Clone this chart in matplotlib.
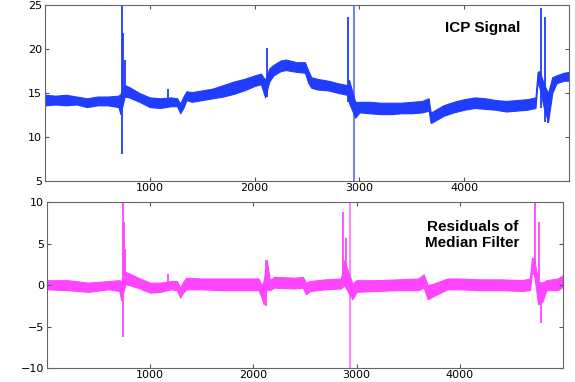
import matplotlib
matplotlib.use('Agg')
import matplotlib.pyplot as plt

# ICP signal: noise band (low / high) read at sample positions
icp_x = [0, 100, 200, 300, 400, 500, 600, 700, 720, 760, 800, 900, 1000, 1100,
         1200, 1260, 1290, 1320, 1350, 1400, 1500, 1600, 1700, 1800, 1900, 2000,
         2060, 2100, 2140, 2180, 2250, 2300, 2400, 2480, 2510, 2540, 2600, 2700,
         2800, 2880, 2900, 2960, 3000, 3100, 3200, 3300, 3400, 3500, 3600, 3660,
         3680, 3700, 3800, 3900, 4000, 4100, 4200, 4300, 4400, 4500, 4600, 4680,
         4700, 4720, 4760, 4800, 4840, 4880, 4950, 5000]
icp_lo = [13.6, 13.7, 13.6, 13.7, 13.4, 13.6, 13.6, 13.4, 12.6, 14.6, 14.5, 14.0,
          13.4, 13.3, 13.5, 13.5, 12.7, 13.3, 14.2, 14.0, 14.2, 14.4, 14.6, 14.9,
          15.3, 15.8, 16.0, 14.5, 16.3, 17.0, 17.5, 17.6, 17.4, 17.3, 16.2, 15.6,
          15.4, 15.3, 15.0, 14.8, 13.9, 12.2, 12.8, 12.7, 12.6, 12.6, 12.7, 12.7,
          12.8, 13.0, 11.6, 11.7, 12.4, 12.8, 13.1, 13.3, 13.2, 13.1, 12.9, 13.0,
          13.1, 13.3, 16.3, 15.5, 13.3, 11.7, 15.0, 16.1, 16.4, 16.4]
icp_hi = [14.8, 14.7, 14.8, 14.6, 14.4, 14.6, 14.6, 14.7, 14.9, 15.9, 15.7, 15.0,
          14.5, 14.4, 14.5, 14.4, 13.8, 14.6, 15.2, 15.1, 15.3, 15.5, 15.9, 16.3,
          16.6, 17.0, 17.2, 16.5, 17.8, 18.2, 18.7, 18.8, 18.5, 18.5, 17.6, 16.8,
          16.6, 16.4, 16.1, 15.9, 16.5, 14.0, 14.0, 14.0, 13.9, 13.9, 13.9, 14.0,
          14.1, 14.4, 12.8, 12.9, 13.6, 14.0, 14.3, 14.5, 14.4, 14.2, 14.1, 14.2,
          14.3, 14.5, 17.4, 17.5, 16.0, 15.0, 16.8, 17.0, 17.3, 17.4]
# artefact spikes: sample, min, max
icp_spk_x = [730, 745, 760, 1170, 2120, 2890, 4735, 4775, 4800]
icp_spk_lo = [8.1, 14.5, 15.0, 14.4, 14.5, 14.0, 13.3, 11.7, 11.6]
icp_spk_hi = [25.0, 21.8, 18.7, 15.4, 20.1, 23.6, 24.7, 23.6, 13.5]
icp_full_x = [2945]

# residuals of the median filter
res_x = [0, 200, 400, 600, 700, 720, 760, 800, 900, 1000, 1100, 1200, 1260, 1290,
         1320, 1350, 1500, 1700, 1900, 2050, 2080, 2100, 2130, 2160, 2200, 2400,
         2480, 2510, 2550, 2700, 2850, 2880, 2960, 3000, 3200, 3400, 3600, 3650,
         3690, 3750, 3880, 4000, 4200, 4400, 4600, 4680, 4700, 4720, 4760, 4800,
         4840, 4950, 5000]
res_lo = [-0.5, -0.6, -0.8, -0.5, -0.7, -1.8, 0.1, 0.0, -0.4, -0.9, -0.8, -0.5,
          -0.6, -1.5, -0.9, -0.5, -0.5, -0.6, -0.6, -0.6, -1.5, -2.3, -0.5, -0.6,
          -0.3, -0.4, -0.3, -1.1, -0.7, -0.5, -0.4, 0.0, -1.7, -0.8, -0.7, -0.6,
          -0.6, -0.3, -1.7, -1.3, -0.5, -0.5, -0.6, -0.6, -0.7, -0.6, 1.5, 1.3,
          -2.3, -2.0, -0.6, -0.6, -0.2]
res_hi = [0.6, 0.6, 0.3, 0.5, 0.6, 0.5, 1.6, 1.4, 0.8, 0.3, 0.3, 0.5, 0.5, -0.3,
          0.4, 0.9, 0.8, 0.8, 0.8, 0.8, 0.0, 0.5, 3.0, 0.6, 1.0, 0.9, 1.0, 0.3,
          0.5, 0.7, 0.8, 3.0, 0.2, 0.6, 0.6, 0.7, 0.8, 1.3, 0.0, 0.2, 0.8, 0.8,
          0.7, 0.7, 0.6, 0.8, 3.3, 3.2, 0.5, 0.3, 0.6, 0.8, 1.2]
res_spk_x = [740, 750, 760, 1170, 2120, 2870, 2895, 4730, 4770, 4790]
res_spk_lo = [-6.2, 0.0, 0.5, 0.0, -2.5, 0.0, 0.0, 1.0, -2.3, -4.5]
res_spk_hi = [10.0, 7.6, 4.3, 1.4, 3.0, 8.8, 5.7, 9.9, 7.6, 0.0]
res_full_x = [2940]

blue = '#1f3cff'
pink = '#ff44ff'

plt.rcParams['font.family'] = ['Liberation Sans', 'DejaVu Sans']

fig = plt.figure(figsize=(5.75, 3.82), dpi=100)
ax1 = fig.add_axes([0.0783, 0.526, 0.9113, 0.461])
ax2 = fig.add_axes([0.0817, 0.036, 0.8973, 0.435])


def draw(ax, x, lo, hi, sx, slo, shi, fx, c, ylim):
    ax.fill_between(x, lo, hi, color=c, lw=0.8)
    ax.vlines(sx, slo, shi, color=c, lw=1.3)
    ax.vlines(fx, ylim[0], ylim[1], color=c, lw=1.3, alpha=0.7)
    ax.set_xlim(0, 5000)
    ax.set_ylim(*ylim)
    ax.set_xticks([1000, 2000, 3000, 4000])
    ax.tick_params(direction='in', top=True, right=True, length=3,
                   labelsize=8, color='#555555', pad=2)
    ax.tick_params(axis='x', pad=1.5)
    for lab in ax.get_xticklabels() + ax.get_yticklabels():
        lab.set_family('DejaVu Sans')
    for s in ax.spines.values():
        s.set_color('#666666')
        s.set_linewidth(0.8)


draw(ax1, icp_x, icp_lo, icp_hi, icp_spk_x, icp_spk_lo, icp_spk_hi,
     icp_full_x, blue, (5, 25))
ax1.set_yticks([5, 10, 15, 20, 25])
for lab in ax1.get_yticklabels():
    lab.set_family('DejaVu Sans')
ax1.text(0.835, 0.87, 'ICP Signal', transform=ax1.transAxes, ha='center',
         va='center', fontsize=11, fontweight='bold')

draw(ax2, res_x, res_lo, res_hi, res_spk_x, res_spk_lo, res_spk_hi,
     res_full_x, pink, (-10, 10))
ax2.set_yticks([-10, -5, 0, 5, 10])
for lab in ax2.get_yticklabels():
    lab.set_family('DejaVu Sans')
ax2.text(0.825, 0.80, 'Residuals of\nMedian Filter', transform=ax2.transAxes,
         ha='center', va='center', fontsize=11, fontweight='bold',
         linespacing=1.15)

fig.savefig('out.png', dpi=100)
